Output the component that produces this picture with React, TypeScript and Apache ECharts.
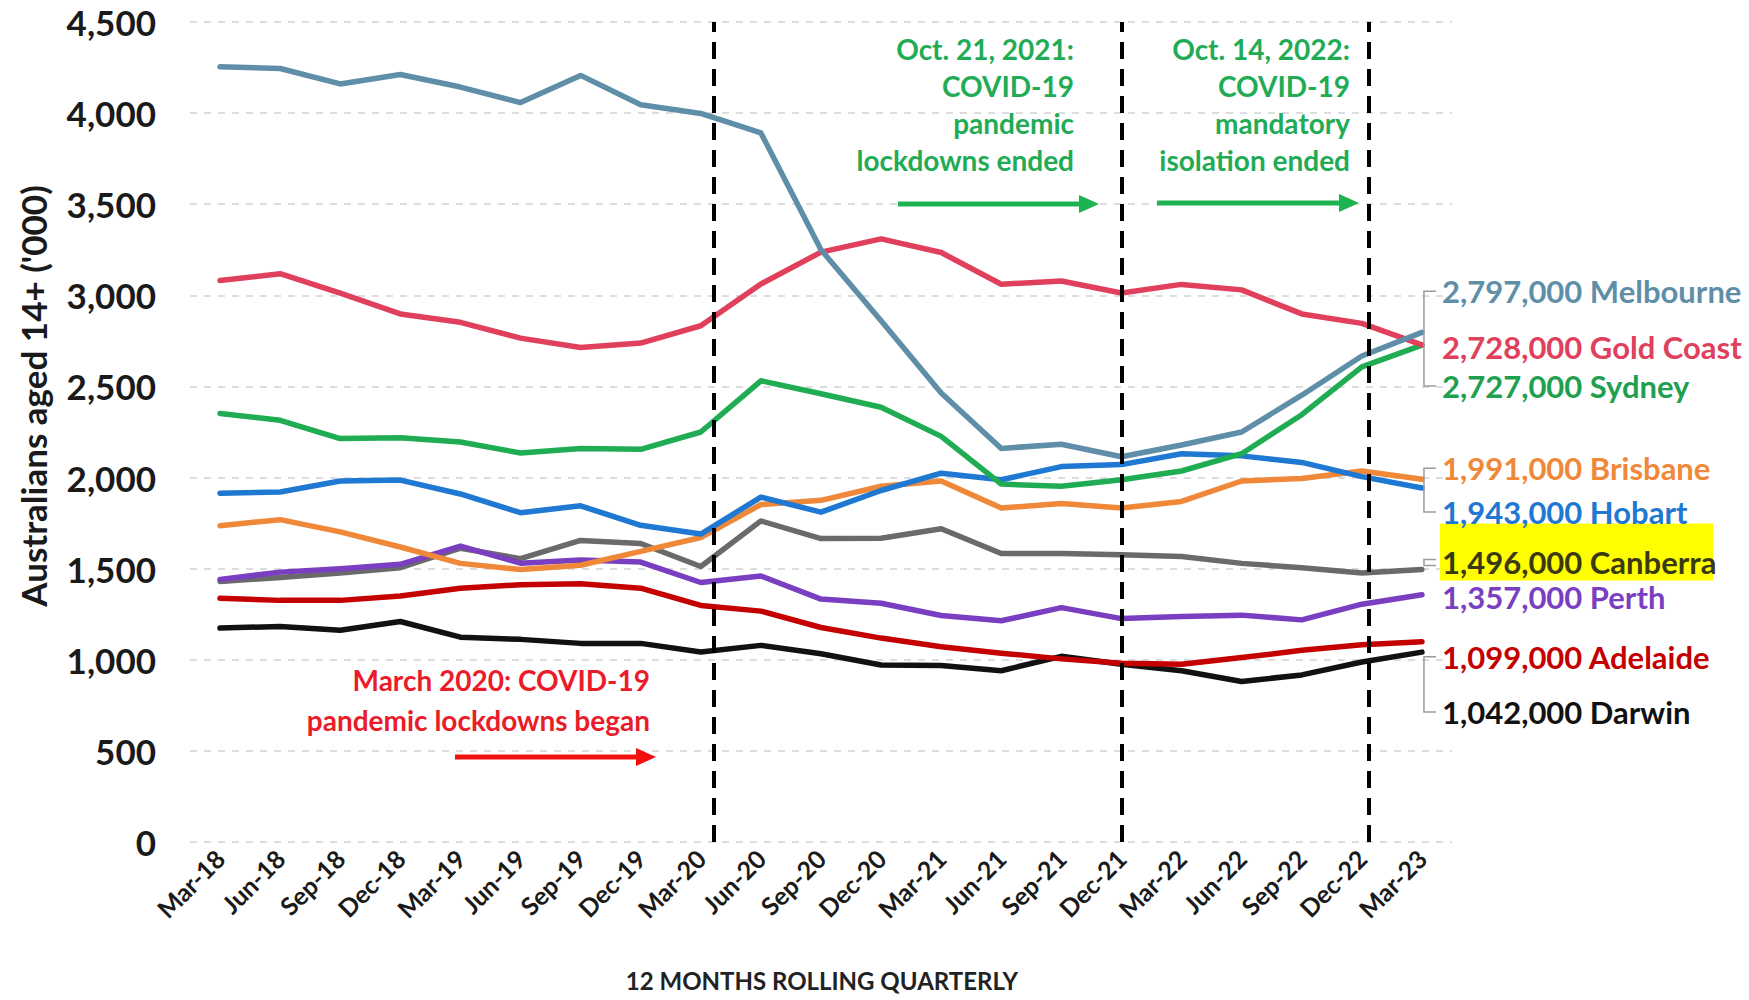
import React, { useEffect, useRef } from "react";
import * as echarts from "echarts";

const categories = [
  "Mar-18", "Jun-18", "Sep-18", "Dec-18", "Mar-19", "Jun-19", "Sep-19", "Dec-19",
  "Mar-20", "Jun-20", "Sep-20", "Dec-20", "Mar-21", "Jun-21", "Sep-21", "Dec-21",
  "Mar-22", "Jun-22", "Sep-22", "Dec-22", "Mar-23",
];

const yTicks = [0, 500, 1000, 1500, 2000, 2500, 3000, 3500, 4000, 4500];

const melbourne = [4255, 4245, 4160, 4212, 4143, 4058, 4207, 4046, 3998, 3891, 3250, 2860, 2464, 2160, 2183, 2114, 2179, 2250, 2452, 2667, 2797];
const goldCoast = [3081, 3119, 3012, 2898, 2852, 2765, 2714, 2738, 2833, 3062, 3237, 3310, 3235, 3061, 3079, 3013, 3060, 3030, 2898, 2846, 2728];
const sydney = [2352, 2314, 2214, 2219, 2195, 2135, 2160, 2155, 2250, 2531, 2460, 2386, 2226, 1964, 1952, 1988, 2036, 2131, 2345, 2607, 2727];
const brisbane = [1736, 1769, 1702, 1619, 1529, 1495, 1519, 1595, 1671, 1852, 1875, 1952, 1981, 1833, 1857, 1833, 1869, 1981, 1995, 2036, 1991];
const hobart = [1914, 1921, 1981, 1986, 1910, 1807, 1845, 1738, 1690, 1893, 1810, 1929, 2024, 1988, 2060, 2071, 2131, 2119, 2083, 2005, 1943];
const canberra = [1430, 1452, 1476, 1505, 1612, 1555, 1655, 1638, 1512, 1762, 1665, 1667, 1719, 1583, 1583, 1576, 1567, 1529, 1505, 1476, 1496];
const perth = [1440, 1481, 1500, 1524, 1624, 1530, 1548, 1536, 1424, 1460, 1333, 1310, 1243, 1214, 1286, 1226, 1238, 1245, 1219, 1305, 1357];
const adelaide = [1338, 1326, 1326, 1350, 1393, 1412, 1417, 1393, 1298, 1267, 1177, 1119, 1071, 1036, 1005, 981, 976, 1012, 1052, 1083, 1099];
const darwin = [1174, 1183, 1162, 1210, 1124, 1112, 1090, 1090, 1043, 1079, 1033, 971, 969, 940, 1019, 976, 940, 881, 917, 988, 1042];

// event markers, in category-index units (dashed vertical lines)
const eventMarks = [8.22, 15, 19.12];

const FONT = "Lato, 'Open Sans', sans-serif";

type S = { name: string; data: number[]; color: string; text: string; dy: number; width: number };

// drawing order: first = bottom
const SERIES: S[] = [
  { name: "Darwin", data: darwin, color: "#111111", text: "#111111", dy: 60, width: 5.5 },
  { name: "Adelaide", data: adelaide, color: "#c40000", text: "#c40000", dy: 15, width: 5.5 },
  { name: "Canberra", data: canberra, color: "#6a6a6a", text: "#3a3a12", dy: -7, width: 5.5 },
  { name: "Perth", data: perth, color: "#7a3fc0", text: "#7a3fc0", dy: 2, width: 5.5 },
  { name: "Brisbane", data: brisbane, color: "#f0883a", text: "#f0883a", dy: -11, width: 5.5 },
  { name: "Hobart", data: hobart, color: "#1f78d1", text: "#1f78d1", dy: 24, width: 5.5 },
  { name: "Sydney", data: sydney, color: "#1fac52", text: "#1fa050", dy: 41, width: 5.5 },
  { name: "Gold Coast", data: goldCoast, color: "#e0405c", text: "#e0405c", dy: 2, width: 5.5 },
  { name: "Melbourne", data: melbourne, color: "#5f8ea8", text: "#5f8ea8", dy: -41, width: 5.5 },
];

const fmt = (v: number) => v.toLocaleString("en-US");

export default function App() {
  const ref = useRef<HTMLDivElement>(null);

  useEffect(() => {
    const el = ref.current!;
    const chart = echarts.init(el, null, { renderer: "svg" });

    const series: any[] = SERIES.map((s) => ({
      name: s.name,
      type: "line",
      xAxisIndex: 0,
      yAxisIndex: 0,
      data: s.data,
      symbol: "none",
      smooth: false,
      lineStyle: { color: s.color, width: s.width, cap: "round", join: "round" },
      itemStyle: { color: s.color },
      silent: true,
    }));

    series.push({
      name: "events",
      type: "line",
      xAxisIndex: 1,
      yAxisIndex: 0,
      data: [],
      silent: true,
      markLine: {
        silent: true,
        symbol: ["none", "none"],
        label: { show: false },
        lineStyle: { color: "#000", width: 4, type: [17, 10] },
        data: eventMarks.map((x) => ({ xAxis: x })),
      },
    });

    chart.setOption({
      animation: false,
      backgroundColor: "#ffffff",
      grid: { left: 190, right: 297, top: 22, bottom: 158, containLabel: false },
      xAxis: [
        {
          type: "category",
          data: categories,
          boundaryGap: true,
          axisLine: { show: false },
          axisTick: { show: false },
          axisLabel: {
            rotate: 45,
            interval: 0,
            margin: 12,
            fontSize: 25,
            fontWeight: "bold",
            fontFamily: FONT,
            color: "#1a1a1a",
          },
          splitLine: { show: false },
        },
        {
          type: "value",
          min: -0.5,
          max: categories.length - 0.5,
          show: false,
          splitLine: { show: false },
        },
      ],
      yAxis: {
        type: "value",
        min: yTicks[0],
        max: yTicks[yTicks.length - 1],
        interval: 500,
        axisLine: { show: false },
        axisTick: { show: false },
        axisLabel: {
          margin: 34,
          fontSize: 35,
          fontWeight: "bold",
          fontFamily: FONT,
          color: "#1a1a1a",
          formatter: (v: number) => fmt(v),
        },
        splitLine: { show: true, lineStyle: { color: "#d2d2d2", width: 1.5, type: [7, 7] } },
      },
      series,
    });

    const last = categories.length - 1;
    const g: any[] = [];
    const labelY: Record<string, number> = {};
    let endX = 0;

    SERIES.forEach((s) => {
      const p = chart.convertToPixel({ xAxisIndex: 0, yAxisIndex: 0 }, [last, s.data[last]]) as number[];
      endX = p[0];
      labelY[s.name] = p[1] + s.dy;
    });

    // yellow highlight behind Canberra
    g.push({
      type: "rect",
      shape: { x: endX + 18, y: labelY["Canberra"] - 39, width: 1713 - (endX + 18), height: 57 },
      style: { fill: "#ffff00" },
      z: 1,
    });

    SERIES.forEach((s) => {
      g.push({
        type: "text",
        x: endX + 20,
        y: labelY[s.name],
        style: {
          text: `${fmt(s.data[last] * 1000)} ${s.name}`,
          fill: s.text,
          fontSize: 31,
          fontWeight: "bold",
          fontFamily: FONT,
          align: "left",
          verticalAlign: "middle",
        },
        z: 5,
      });
    });

    // leader brackets
    const bx0 = endX + 2;
    const bx1 = endX + 14;
    const bracket = (top: number, bot: number) => ({
      type: "polyline",
      shape: { points: [[bx1, top], [bx0, top], [bx0, bot], [bx1, bot]] },
      style: { stroke: "#9a9a9a", lineWidth: 1.5, fill: null },
      z: 4,
    });
    g.push(bracket(labelY["Melbourne"], labelY["Sydney"]));
    g.push(bracket(labelY["Brisbane"], labelY["Hobart"]));
    g.push(bracket(labelY["Canberra"] - 3, labelY["Canberra"] + 3));
    g.push(bracket(labelY["Adelaide"], labelY["Darwin"]));

    // axis titles
    g.push({
      type: "text",
      x: 33,
      y: 396,
      rotation: Math.PI / 2,
      style: {
        text: "Australians aged 14+ ('000)",
        fill: "#1a1a1a",
        fontSize: 35,
        fontWeight: "bold",
        fontFamily: FONT,
        align: "center",
        verticalAlign: "middle",
      },
    });
    g.push({
      type: "text",
      x: 822,
      y: 980,
      style: {
        text: "12 MONTHS ROLLING QUARTERLY",
        fill: "#222",
        fontSize: 24,
        fontWeight: "bold",
        fontFamily: FONT,
        align: "center",
        verticalAlign: "middle",
      },
    });

    // annotations
    const annot = (lines: string[], rightX: number, y0: number, step: number, color: string) => {
      lines.forEach((t, i) => {
        g.push({
          type: "text",
          x: rightX,
          y: y0 + i * step,
          style: {
            text: t,
            fill: color,
            fontSize: 28,
            fontWeight: "bold",
            fontFamily: FONT,
            align: "right",
            verticalAlign: "middle",
          },
          z: 6,
        });
      });
    };
    const arrow = (x1: number, x2: number, y: number, color: string) => {
      const hl = 20;
      const hh = 9;
      g.push({
        type: "line",
        shape: { x1, y1: y, x2: x2 - hl + 2, y2: y },
        style: { stroke: color, lineWidth: 5 },
        z: 6,
      });
      g.push({
        type: "polygon",
        shape: { points: [[x2 - hl, y - hh], [x2, y], [x2 - hl, y + hh]] },
        style: { fill: color },
        z: 6,
      });
    };

    const RED = "#ea1c2a";
    const GREEN = "#1fac55";
    annot(["March 2020: COVID-19", "pandemic lockdowns began"], 650, 680, 40, RED);
    arrow(455, 656, 757, "#f01010");
    annot(["Oct. 21, 2021:", "COVID-19", "pandemic", "lockdowns ended"], 1074, 49, 37, GREEN);
    arrow(898, 1099, 204, "#1db350");
    annot(["Oct. 14, 2022:", "COVID-19", "mandatory", "isolation ended"], 1350, 49, 37, GREEN);
    arrow(1157, 1359, 203, "#1db350");

    chart.setOption({ graphic: g });

    return () => chart.dispose();
  }, []);

  return (
    <div
      ref={ref}
      style={{ position: "fixed", left: 0, top: 0, width: 1749, height: 1000, background: "#fff" }}
    />
  );
}
